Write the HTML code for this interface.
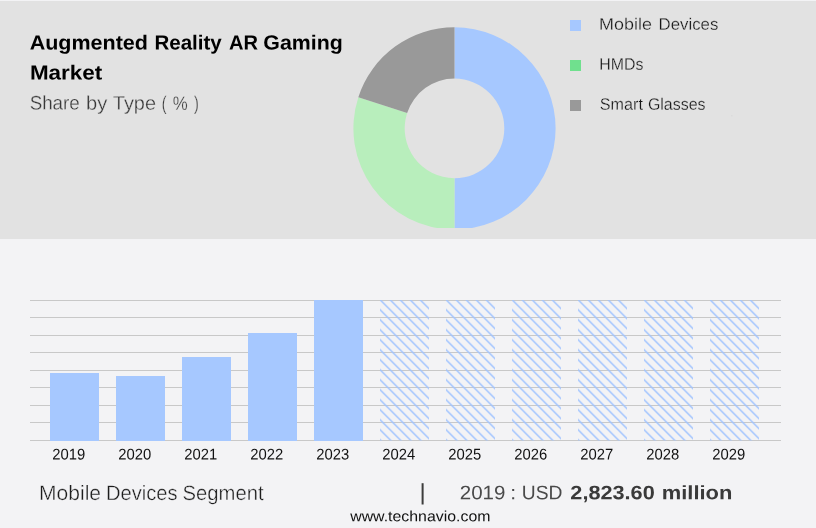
<!DOCTYPE html>
<html lang="en">
<head>
<meta charset="utf-8">
<title>Augmented Reality AR Gaming Market</title>
<style>
  html, body { margin: 0; padding: 0; }
  body { width: 816px; height: 528px; overflow: hidden; background: #f3f3f5; position: relative;
         font-family: "Liberation Sans", sans-serif; }
  #top { position: absolute; left: 0; top: 1px; width: 816px; height: 238px; background: #e2e2e2; }
  svg { position: absolute; left: 0; top: 0; }
  svg text { font-family: "Liberation Sans", sans-serif; text-rendering: geometricPrecision; }
  .xl text { font-size: 15.5px; fill: #111; }
</style>
</head>
<body>
<div id="top"></div>

<svg width="816" height="528" viewBox="0 0 816 528">
  <defs>
    <clipPath id="dclip"><rect x="340" y="20" width="230" height="208"/></clipPath>
    <pattern id="hatch" x="0.4" y="0" width="10" height="10" patternUnits="userSpaceOnUse">
      <path d="M-1,-1 L11,11 M-1,9 L1,11 M9,-1 L11,1" stroke="#9ec2ff" stroke-width="1.4" fill="none"/>
    </pattern>
  </defs>

  <!-- donut -->
  <g clip-path="url(#dclip)">
  <g transform="translate(454.5,128.4)">
    <path d="M0,-101.1 A101.1,101.1 0 0 1 0,101.1 L0,49.8 A49.8,49.8 0 0 0 0,-49.8 Z" fill="#a6c8ff"/>
    <path d="M0,101.1 A101.1,101.1 0 0 1 -96.15,-31.24 L-47.36,-15.39 A49.8,49.8 0 0 0 0,49.8 Z" fill="#b8eebc"/>
    <path d="M-96.15,-31.24 A101.1,101.1 0 0 1 0,-101.1 L0,-49.8 A49.8,49.8 0 0 0 -47.36,-15.39 Z" fill="#999999"/>
  </g>
  </g>

  <!-- legend swatches -->
  <rect x="570" y="20" width="11" height="11" fill="#a6c8ff"/>
  <rect x="570" y="60" width="11" height="11" fill="#70e08e"/>
  <rect x="570" y="100" width="11" height="11" fill="#999999"/>

  <rect x="731.4" y="115.3" width="1" height="1" fill="#d2d2d2"/>

  <!-- grid -->
  <g stroke="#c8c8c8" stroke-width="1" shape-rendering="crispEdges">
    <line x1="30" x2="781" y1="300.5" y2="300.5"/>
    <line x1="30" x2="781" y1="317.5" y2="317.5"/>
    <line x1="30" x2="781" y1="335.5" y2="335.5"/>
    <line x1="30" x2="781" y1="352.5" y2="352.5"/>
    <line x1="30" x2="781" y1="370.5" y2="370.5"/>
    <line x1="30" x2="781" y1="387.5" y2="387.5"/>
    <line x1="30" x2="781" y1="405.5" y2="405.5"/>
    <line x1="30" x2="781" y1="422.5" y2="422.5"/>
    <line x1="30" x2="781" y1="440.5" y2="440.5"/>
  </g>

  <!-- solid bars -->
  <g fill="#a6c8ff">
    <rect x="50" y="373" width="49" height="68"/>
    <rect x="116" y="376" width="49" height="65"/>
    <rect x="182" y="357" width="49" height="84"/>
    <rect x="248" y="333" width="49" height="108"/>
    <rect x="314" y="300" width="49" height="141"/>
  </g>

  <!-- forecast bars -->
  <g transform="translate(380,300)"><rect width="49" height="140.5" fill="url(#hatch)"/></g>
  <g transform="translate(446,300)"><rect width="49" height="140.5" fill="url(#hatch)"/></g>
  <g transform="translate(512,300)"><rect width="49" height="140.5" fill="url(#hatch)"/></g>
  <g transform="translate(578,300)"><rect width="49" height="140.5" fill="url(#hatch)"/></g>
  <g transform="translate(644,300)"><rect width="49" height="140.5" fill="url(#hatch)"/></g>
  <g transform="translate(710,300)"><rect width="49" height="140.5" fill="url(#hatch)"/></g>

  <!-- x labels -->
  <g class="xl" text-anchor="middle">
    <text transform="translate(68.8,459.6) scale(0.955,1) rotate(0.03)">2019</text>
    <text transform="translate(134.8,459.6) scale(0.955,1) rotate(0.03)">2020</text>
    <text transform="translate(200.8,459.6) scale(0.955,1) rotate(0.03)">2021</text>
    <text transform="translate(266.8,459.6) scale(0.955,1) rotate(0.03)">2022</text>
    <text transform="translate(332.8,459.6) scale(0.955,1) rotate(0.03)">2023</text>
    <text transform="translate(398.8,459.6) scale(0.955,1) rotate(0.03)">2024</text>
    <text transform="translate(464.8,459.6) scale(0.955,1) rotate(0.03)">2025</text>
    <text transform="translate(530.8,459.6) scale(0.955,1) rotate(0.03)">2026</text>
    <text transform="translate(596.8,459.6) scale(0.955,1) rotate(0.03)">2027</text>
    <text transform="translate(662.8,459.6) scale(0.955,1) rotate(0.03)">2028</text>
    <text transform="translate(728.8,459.6) scale(0.955,1) rotate(0.03)">2029</text>
  </g>

  <!-- separator -->
  <rect x="421.6" y="483.2" width="2" height="21.3" fill="#3c3c3c"/>

  <!-- text -->
  <text id="title1" transform="translate(0,49.43) rotate(0.03)" font-size="20.4" fill="#000" font-weight="bold"><tspan x="29.67" textLength="118.25" lengthAdjust="spacingAndGlyphs">Augmented</tspan> <tspan x="154.44" textLength="67.36" lengthAdjust="spacingAndGlyphs">Reality</tspan> <tspan x="228.91" textLength="29.00" lengthAdjust="spacingAndGlyphs">AR</tspan> <tspan x="263.31" textLength="79.49" lengthAdjust="spacingAndGlyphs">Gaming</tspan></text>
  <text id="title2" transform="translate(0,79.48) rotate(0.03)" font-size="20.4" fill="#000" font-weight="bold"><tspan x="29.92" textLength="72.27" lengthAdjust="spacingAndGlyphs">Market</tspan></text>
  <text id="sub" transform="translate(0,109.58) rotate(0.03)" font-size="19.6" fill="#383838" stroke="#e2e2e2" stroke-width="0.3"><tspan x="29.64" textLength="50.18" lengthAdjust="spacingAndGlyphs">Share</tspan> <tspan x="86.02" textLength="21.23" lengthAdjust="spacingAndGlyphs">by</tspan> <tspan x="112.84" textLength="43.21" lengthAdjust="spacingAndGlyphs">Type</tspan> <tspan x="161.82" textLength="4.77" lengthAdjust="spacingAndGlyphs">(</tspan> <tspan x="172.80" textLength="14.98" lengthAdjust="spacingAndGlyphs">%</tspan> <tspan x="193.99" textLength="4.82" lengthAdjust="spacingAndGlyphs">)</tspan></text>
  <text id="leg1" transform="translate(0,29.44) rotate(0.03)" font-size="16.6" fill="#151515" stroke="#e2e2e2" stroke-width="0.25"><tspan x="599.14" textLength="52.77" lengthAdjust="spacingAndGlyphs">Mobile</tspan> <tspan x="658.64" textLength="59.66" lengthAdjust="spacingAndGlyphs">Devices</tspan></text>
  <text id="leg2" transform="translate(0,69.49) rotate(0.03)" font-size="16.6" fill="#151515" stroke="#e2e2e2" stroke-width="0.25"><tspan x="599.31" textLength="44.07" lengthAdjust="spacingAndGlyphs">HMDs</tspan></text>
  <text id="leg3" transform="translate(0,109.39) rotate(0.03)" font-size="16.6" fill="#151515" stroke="#e2e2e2" stroke-width="0.25"><tspan x="599.87" textLength="43.05" lengthAdjust="spacingAndGlyphs">Smart</tspan> <tspan x="647.88" textLength="57.61" lengthAdjust="spacingAndGlyphs">Glasses</tspan></text>
  <text id="seg" transform="translate(0,499.93) rotate(0.03)" font-size="20.8" fill="#1c1c1c" stroke="#f3f3f5" stroke-width="0.35"><tspan x="39.08" textLength="61.95" lengthAdjust="spacingAndGlyphs">Mobile</tspan> <tspan x="105.96" textLength="71.55" lengthAdjust="spacingAndGlyphs">Devices</tspan> <tspan x="182.58" textLength="80.97" lengthAdjust="spacingAndGlyphs">Segment</tspan></text>
  <text id="yr" transform="translate(0,499.01) rotate(0.03)" font-size="19.5" fill="#4a4a4a"><tspan x="459.75" textLength="45.68" lengthAdjust="spacingAndGlyphs">2019</tspan> <tspan x="510.35" textLength="5.86" lengthAdjust="spacingAndGlyphs">:</tspan> <tspan x="521.82" textLength="40.59" lengthAdjust="spacingAndGlyphs">USD</tspan></text>
  <text id="val" transform="translate(0,498.95) rotate(0.03)" font-size="19.5" fill="#3a3a3a" font-weight="bold"><tspan x="570.38" textLength="84.32" lengthAdjust="spacingAndGlyphs">2,823.60</tspan> <tspan x="661.74" textLength="70.65" lengthAdjust="spacingAndGlyphs">million</tspan></text>
  <text id="web" transform="translate(0,521.12) rotate(0.03)" font-size="14.8" fill="#111"><tspan x="350.20" textLength="140.26" lengthAdjust="spacingAndGlyphs">www.technavio.com</tspan></text>
</svg>
</body>
</html>
